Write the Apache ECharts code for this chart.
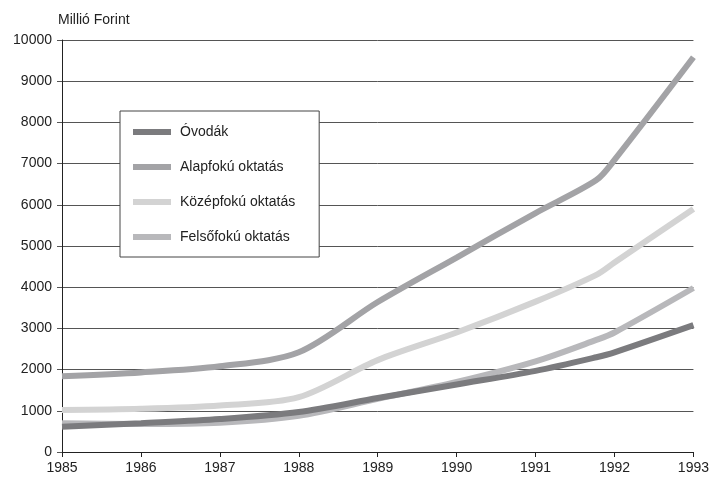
<!DOCTYPE html>
<html>
<head>
<meta charset="utf-8">
<script src="https://cdn.jsdelivr.net/npm/echarts@6/dist/echarts.min.js"></script>
<style>
  html, body { margin: 0; padding: 0; background: #fff; }
  #chart { width: 712px; height: 477px; }
</style>
</head>
<body>
<div id="chart"></div>
<script>
// years (x positions), 1991.77 is where the curves bend before 1992
const years = [1985, 1986, 1987, 1988, 1989, 1990, 1991, 1991.77, 1992, 1993]

// millió forint
const ovodak = [610, 700, 800, 970, 1310, 1640, 1970, 2300, 2420, 3080]
const alapfoku = [1840, 1930, 2080, 2420, 3640, 4720, 5800, 6600, 7090, 9580]
const kozepfoku = [1020, 1050, 1130, 1330, 2230, 2900, 3650, 4300, 4600, 5900]
const felsofoku = [700, 680, 710, 880, 1290, 1700, 2200, 2720, 2900, 3980]

const seriesNames = ['Óvodák', 'Alapfokú oktatás', 'Középfokú oktatás', 'Felsőfokú oktatás']
const seriesColors = ['#7b7b7e', '#a3a3a6', '#d3d3d3', '#b8b8bb']

const font = '"Liberation Sans", Arial, sans-serif'

const chart = echarts.init(document.getElementById('chart'))

function pairs(values) {
  return values.map((v, i) => [years[i], v])
}

const allValues = [ovodak, alapfoku, kozepfoku, felsofoku]
const zOrder = [6, 3, 4, 5]

const option = {
  animation: false,
  backgroundColor: '#fff',
  textStyle: { fontFamily: font },
  title: {
    text: 'Millió Forint',
    left: 53,
    top: 8,
    textStyle: { fontSize: 14, fontWeight: 'normal', color: '#222', fontFamily: font }
  },
  legend: {
    orient: 'vertical',
    left: 120,
    top: 111,
    padding: [14, 24, 13, 13],
    itemGap: 21,
    itemWidth: 38,
    itemHeight: 6,
    icon: 'rect',
    borderColor: '#444',
    borderWidth: 1,
    backgroundColor: '#fff',
    textStyle: { fontSize: 14, color: '#222', fontFamily: font, padding: [0, 0, 0, 4] },
    data: seriesNames
  },
  grid: { left: 62, right: 14, top: 40, bottom: 25 },
  xAxis: {
    type: 'value',
    min: 1985,
    max: 1993,
    interval: 1,
    axisLine: { show: true, lineStyle: { color: '#222', width: 1 } },
    axisTick: { show: true, length: 5, inside: false, lineStyle: { color: '#222' } },
    axisLabel: { fontSize: 14, color: '#222', margin: 9, fontFamily: font, formatter: v => String(v) },
    splitLine: { show: false }
  },
  yAxis: {
    type: 'value',
    min: 0,
    max: 10000,
    interval: 1000,
    axisLine: { show: true, lineStyle: { color: '#222', width: 1 } },
    axisTick: { show: true, length: 5, lineStyle: { color: '#555' } },
    axisLabel: { fontSize: 14, color: '#222', margin: 10, fontFamily: font, formatter: v => String(v) },
    splitLine: { show: true, lineStyle: { color: '#555', width: 1 } }
  },
  series: seriesNames.map((name, i) => ({
    name: name,
    type: 'line',
    data: pairs(allValues[i]),
    smooth: 0.3,
    showSymbol: false,
    symbol: 'none',
    z: zOrder[i],
    itemStyle: { color: seriesColors[i] },
    lineStyle: { color: seriesColors[i], width: 6, cap: 'butt' }
  }))
}

chart.setOption(option)
</script>
</body>
</html>
